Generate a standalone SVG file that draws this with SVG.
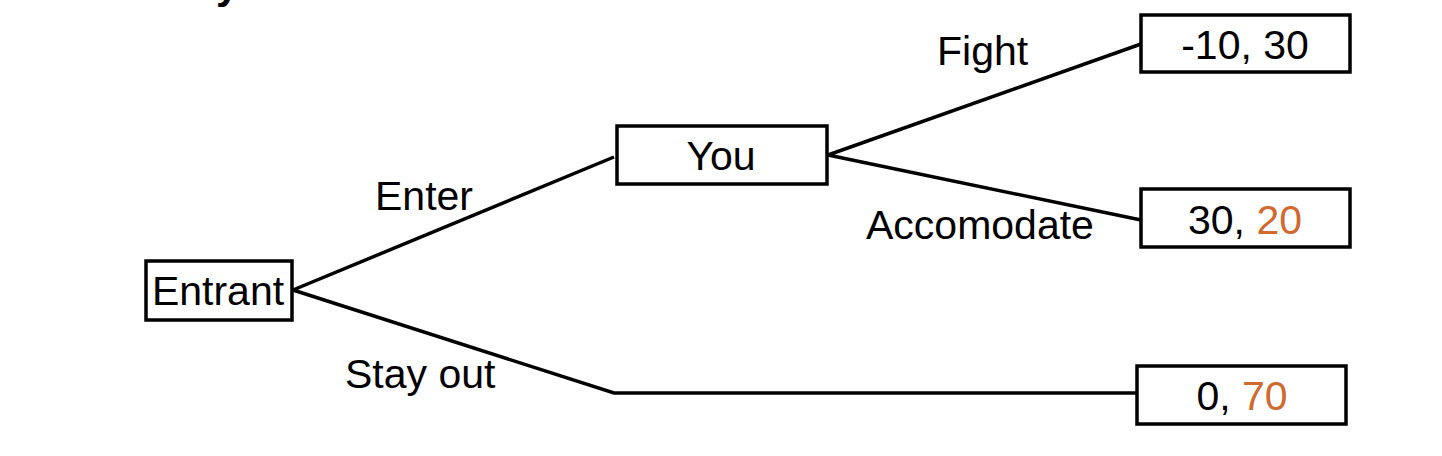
<svg xmlns="http://www.w3.org/2000/svg" width="1442" height="456" viewBox="0 0 1442 456">
<style>
.box{fill:#fff;stroke:#000;stroke-width:3.5}
.t{font-family:"Liberation Sans",Arial,sans-serif;font-size:41px;fill:#000}
.c{text-anchor:middle}
.o{fill:#D2692E}
.edge{stroke:#000;stroke-width:3.5;fill:none}
</style>
<rect width="1442" height="456" fill="#fff"/>
<text class="t" x="216" y="-1" font-weight="bold">y</text>
<g id="connectors">
<line class="edge" x1="293" y1="290" x2="614" y2="157"/>
<polyline class="edge" points="293,290 614,393 1137,393"/>
<line class="edge" x1="828" y1="155" x2="1141" y2="44"/>
<line class="edge" x1="828" y1="155" x2="1141" y2="220"/>
<text class="t" x="375" y="210">Enter</text>
<text class="t" x="345" y="388">Stay out</text>
<text class="t" x="937" y="65">Fight</text>
<text class="t" x="866" y="239">Accomodate</text>
</g>
<g id="entrant">
<rect class="box" x="146" y="261" width="146" height="59"/>
<text class="t c" x="218" y="305">Entrant</text>
</g>
<g id="you">
<rect class="box" x="617" y="126" width="210" height="58"/>
<text class="t c" x="721" y="170">You</text>
</g>
<g id="payoff1">
<rect class="box" x="1141" y="15" width="209" height="57"/>
<text class="t c" x="1245" y="59">-10, 30</text>
</g>
<g id="payoff2">
<rect class="box" x="1141" y="189" width="209" height="58"/>
<text class="t c" x="1245" y="234">30, <tspan class="o">20</tspan></text>
</g>
<g id="payoff3">
<rect class="box" x="1137" y="366" width="209" height="58"/>
<text class="t c" x="1242" y="410">0, <tspan class="o">70</tspan></text>
</g>
</svg>
